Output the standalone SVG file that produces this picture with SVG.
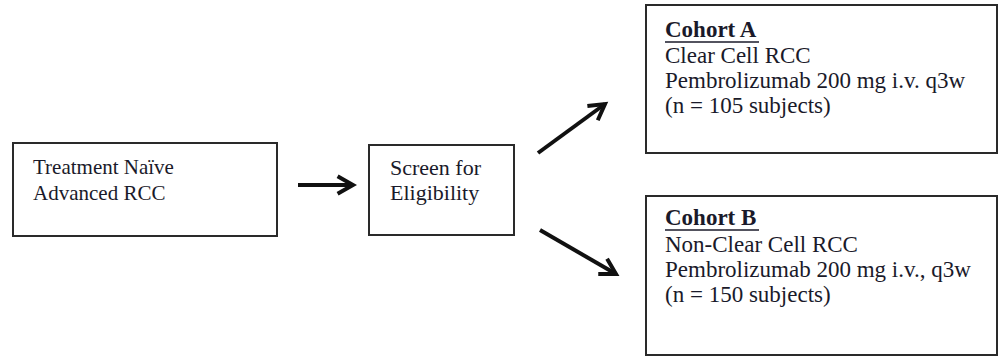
<svg xmlns="http://www.w3.org/2000/svg" width="999" height="358" viewBox="0 0 999 358">
<defs>
<style>
.box{fill:#fff;stroke:#2a2a2a;stroke-width:2}
.t{font-family:"Liberation Serif","Times New Roman",serif;font-size:21px;fill:#1a1a2a}
.s{font-size:22px}
.k{font-size:23px}
.c{stroke:#111;stroke-width:4;fill:none}
.u{stroke:#1a1a2a;stroke-width:1.5}
</style>
<marker id="ah" viewBox="0 0 10 10" refX="8" refY="5" markerWidth="5.5" markerHeight="5.5" orient="auto" markerUnits="strokeWidth">
<path d="M1,1 L8,5 L1,9" fill="none" stroke="#111" stroke-width="1.8" stroke-linejoin="miter"/>
</marker>
</defs>
<rect width="999" height="358" fill="#fff"/>
<g id="node-treatment">
<rect class="box" x="13" y="143" width="264" height="93"/>
<text class="t" x="33" y="174">Treatment Naïve</text>
<text class="t" x="33" y="200">Advanced RCC</text>
</g>
<g id="node-screen">
<rect class="box" x="369" y="145" width="145" height="90"/>
<text class="t s" x="390" y="175">Screen for</text>
<text class="t s" x="390" y="200">Eligibility</text>
</g>
<g id="node-cohortA">
<rect class="box" x="646" y="5" width="351" height="148"/>
<text class="t k" x="665" y="37" font-weight="bold">Cohort A</text>
<line class="u" x1="665" y1="42" x2="759" y2="42"/>
<text class="t k" x="665" y="63">Clear Cell RCC</text>
<text class="t k" x="665" y="88">Pembrolizumab 200 mg i.v. q3w</text>
<text class="t k" x="665" y="113">(n = 105 subjects)</text>
</g>
<g id="node-cohortB">
<rect class="box" x="646" y="196" width="351" height="159"/>
<text class="t k" x="665" y="225" font-weight="bold">Cohort B</text>
<line class="u" x1="665" y1="230" x2="759" y2="230"/>
<text class="t k" x="665" y="252">Non-Clear Cell RCC</text>
<text class="t k" x="665" y="277">Pembrolizumab 200 mg i.v., q3w</text>
<text class="t k" x="665" y="302">(n = 150 subjects)</text>
</g>
<g id="connectors">
<line class="c" x1="298" y1="185" x2="353" y2="185" marker-end="url(#ah)"/>
<line class="c" x1="538" y1="153" x2="605" y2="104" marker-end="url(#ah)"/>
<line class="c" x1="540" y1="230" x2="616" y2="274" marker-end="url(#ah)"/>
</g>
</svg>
